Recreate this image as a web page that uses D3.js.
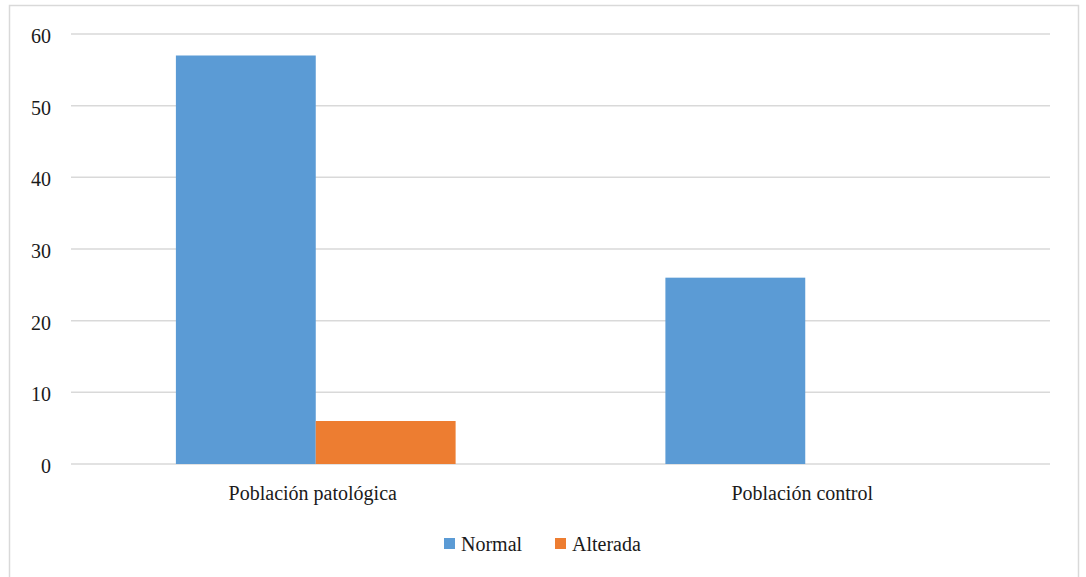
<!DOCTYPE html>
<html>
<head>
<meta charset="utf-8">
<script src="https://cdn.jsdelivr.net/npm/d3@7"></script>
<style>
  body { margin: 0; background: #fff; }
</style>
</head>
<body>
<svg></svg>
<script>
  // Data
  const categories = ["Población patológica", "Población control"];
  const series = ["Normal", "Alterada"];
  const normalValues = [57, 26];
  const alteradaValues = [6, 0];
  const yTicks = [0, 10, 20, 30, 40, 50, 60];

  const colors = ["#5b9bd5", "#ed7d31"];
  const font = "'Liberation Serif', 'Times New Roman', serif";

  const width = 1086;
  const height = 577;
  const margin = {top: 34, right: 36, bottom: 113, left: 71};

  const svg = d3.select("svg")
      .attr("width", width)
      .attr("height", height)
      .style("display", "block");

  // small helper so every label gets the same face
  const serifText = sel => sel
      .style("font-family", font, "important")
      .style("font-size", "20px", "important")
      .style("fill", "#1a1a1a");

  // chart frame
  svg.append("rect")
      .attr("x", 9.5)
      .attr("y", 5.5)
      .attr("width", 1069)
      .attr("height", 580)
      .attr("fill", "#fff")
      .attr("stroke", "#d9d9d9")
      .attr("stroke-width", 1.5);

  const table = categories.map((c, i) => ({category: c, values: [normalValues[i], alteradaValues[i]]}));

  const x0 = d3.scaleBand()
      .domain(categories)
      .range([margin.left, width - margin.right])
      .padding(0);

  const barW = x0.bandwidth() / 3.5;
  const x1 = d3.scaleBand()
      .domain(series)
      .range([barW * 0.75, x0.bandwidth() - barW * 0.75]);

  const y = d3.scaleLinear()
      .domain([0, 60])
      .range([height - margin.bottom, margin.top]);

  // gridlines
  svg.append("g")
    .selectAll("line")
    .data(yTicks)
    .join("line")
      .attr("x1", margin.left)
      .attr("x2", width - margin.right)
      .attr("y1", d => y(d))
      .attr("y2", d => y(d))
      .attr("stroke", "#d9d9d9")
      .attr("stroke-width", 1.5);

  // y labels
  svg.append("g")
    .selectAll("text")
    .data(yTicks)
    .join("text")
      .attr("x", 51)
      .attr("y", d => y(d) + 9)
      .attr("text-anchor", "end")
      .call(serifText)
      .text(d => d);

  // bars
  svg.append("g")
    .selectAll("g")
    .data(table)
    .join("g")
      .attr("transform", d => `translate(${x0(d.category)},0)`)
    .selectAll("rect")
    .data(d => d.values.map((v, i) => ({key: series[i], value: v, i})))
    .join("rect")
      .attr("x", d => x1(d.key))
      .attr("width", x1.bandwidth())
      .attr("y", d => y(d.value))
      .attr("height", d => y(0) - y(d.value))
      .attr("fill", d => colors[d.i]);

  // category labels
  svg.append("g")
    .selectAll("text")
    .data(categories)
    .join("text")
      .attr("x", d => x0(d) + x0.bandwidth() / 2 - 3)
      .attr("y", 500)
      .attr("text-anchor", "middle")
      .call(serifText)
      .text(d => d);

  // legend
  const legendPos = [444, 555];
  const legend = svg.append("g")
    .selectAll("g")
    .data(series)
    .join("g")
      .attr("transform", (d, i) => `translate(${legendPos[i]},538)`);
  legend.append("rect")
      .attr("width", 11)
      .attr("height", 11)
      .attr("fill", (d, i) => colors[i]);
  legend.append("text")
      .attr("x", 17)
      .attr("y", 13)
      .call(serifText)
      .text(d => d);
</script>
</body>
</html>
